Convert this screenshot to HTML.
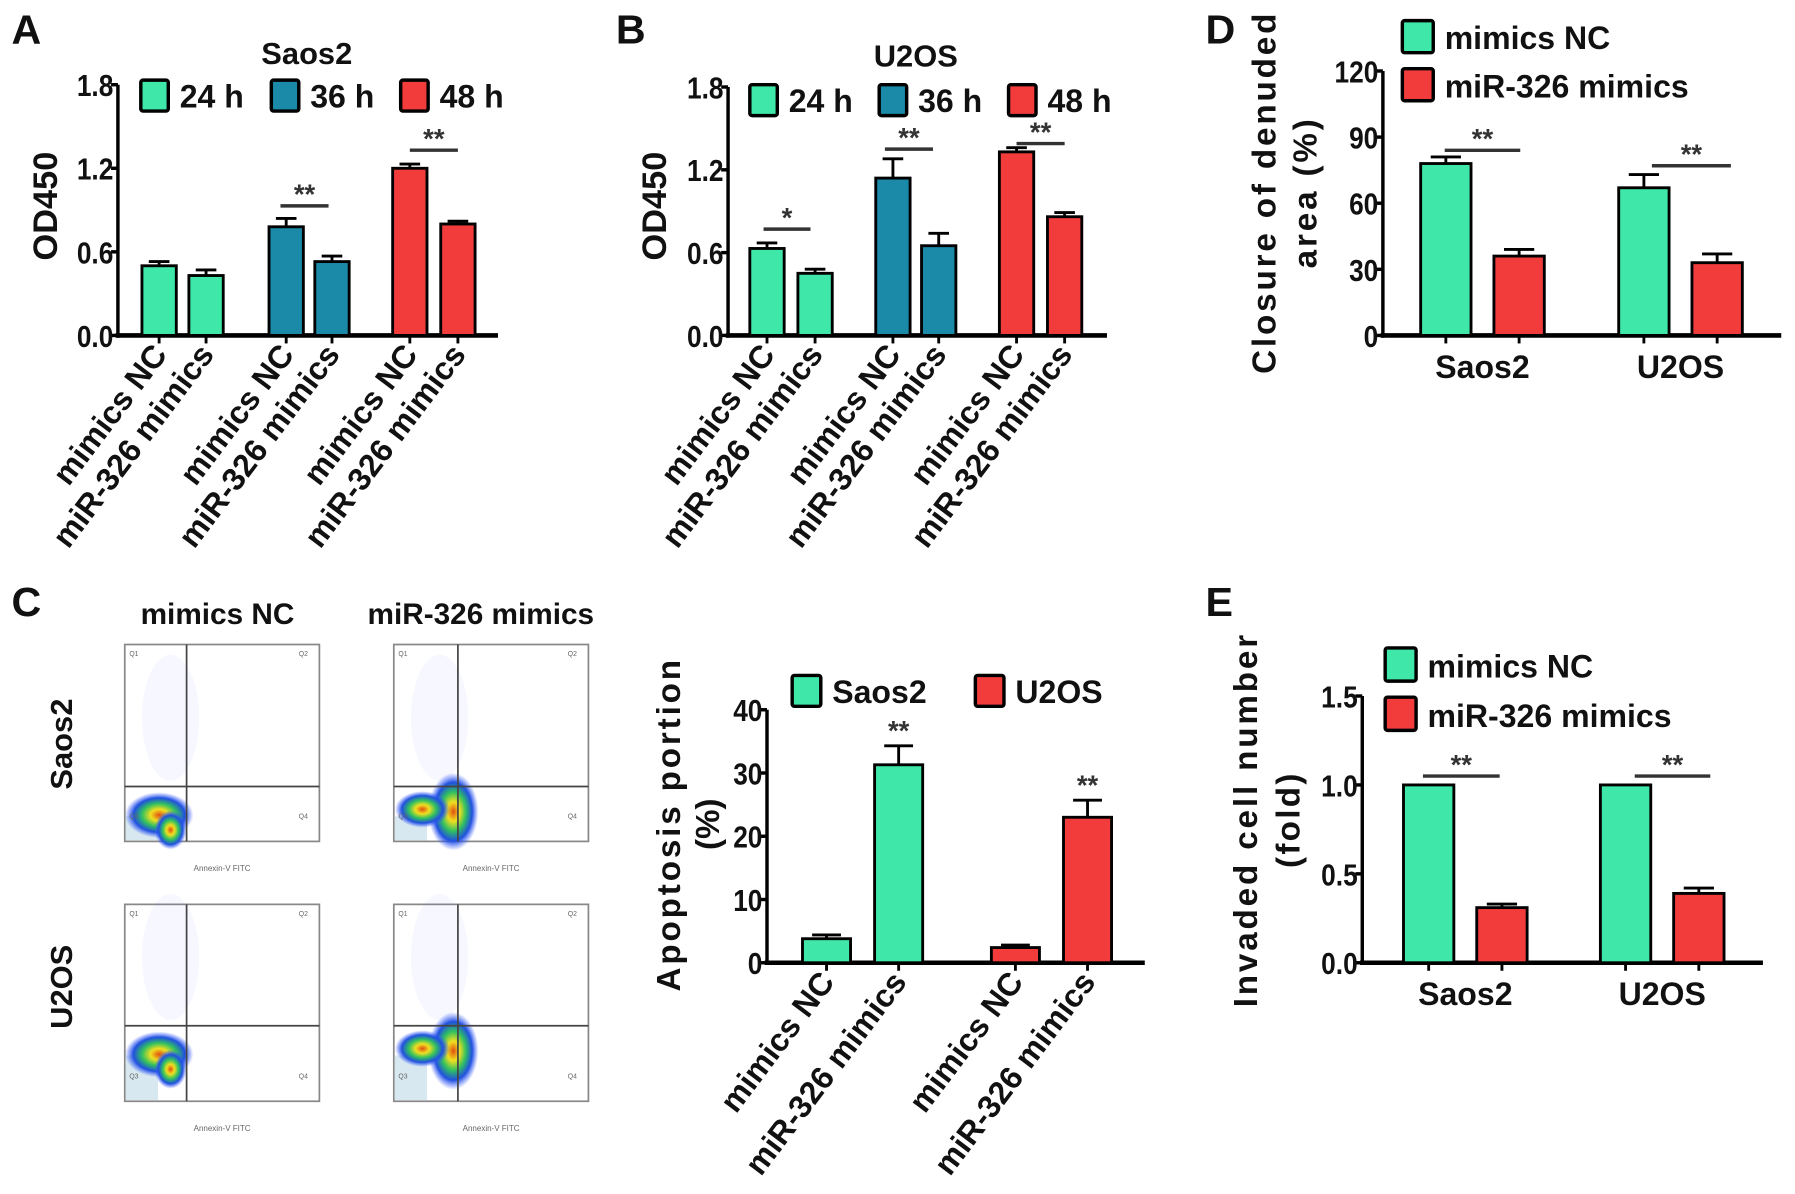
<!DOCTYPE html>
<html><head><meta charset="utf-8"><style>
html,body{margin:0;padding:0;background:#fff;}
svg{display:block;font-family:"Liberation Sans",Arial,sans-serif;font-weight:bold;}
</style></head><body>
<svg id="fig" width="1795" height="1194" viewBox="0 0 1568 1043" xmlns="http://www.w3.org/2000/svg">
<defs>
<radialGradient id="blob" cx="50%" cy="50%" r="50%">
<stop offset="0" stop-color="#e05010"/><stop offset="0.25" stop-color="#f0e020"/><stop offset="0.5" stop-color="#30c060"/><stop offset="0.75" stop-color="#2050e0"/><stop offset="1" stop-color="#4060ff" stop-opacity="0"/>
</radialGradient>
</defs>
<g id="root"></g>
</svg>
<script>
// Panel A (Saos2 CCK-8)
const aCats = ["mimics NC","miR-326 mimics","mimics NC","miR-326 mimics","mimics NC","miR-326 mimics"];
const aVals = [0.50,0.43,0.78,0.53,1.20,0.80];
const aErrs = [0.03,0.04,0.06,0.04,0.03,0.02];
const aTicks = [0.0,0.6,1.2,1.8];
// Panel B (U2OS CCK-8)
const bVals = [0.63,0.45,1.14,0.65,1.33,0.86];
const bErrs = [0.04,0.03,0.14,0.09,0.03,0.03];
// Panel D (wound closure)
const dCats = ["Saos2","U2OS"];
const dNC = [78,67];
const dNCerr = [3,6];
const dMi = [36,33];
const dMiErr = [3,4];
const dTicks = [0,30,60,90,120];
// Panel C (apoptosis)
const cCats = ["mimics NC","miR-326 mimics","mimics NC","miR-326 mimics"];
const cVals = [3.8,31.3,2.4,23.0];
const cErrs = [0.6,3.0,0.4,2.7];
const cTicks = [0,10,20,30,40];
// Panel E (invasion)
const eNC = [1.0,1.0];
const eNCerr = [0,0];
const eMi = [0.31,0.39];
const eMiErr = [0.02,0.03];
const eTicks = [0.0,0.5,1.0,1.5];

const G="#3fe8a9", T="#1a8aa8", R="#f23c3c";
const NS="http://www.w3.org/2000/svg";
const root=document.getElementById('root');
function el(tag,attrs,parent,txt){const e=document.createElementNS(NS,tag);for(const k in attrs)e.setAttribute(k,attrs[k]);if(txt!==undefined)e.textContent=txt;(parent||root).appendChild(e);return e;}
function txt(x,y,s,size,name,extra){const t=el('text',Object.assign({x:x,y:y,'font-size':size,fill:'#111'},extra||{}),root,s);


return t;}

function axis(ax){
  const g=el('g',{});
  
  
  const y=v=>ax.y0-(v-ax.min)/(ax.max-ax.min)*(ax.y0-ax.y1);
  el('line',{x1:ax.x,y1:ax.y1,x2:ax.x,y2:ax.y0+2,stroke:'#000','stroke-width':3},g);
  el('line',{x1:ax.x-2,y1:ax.y0,x2:ax.xEnd,y2:ax.y0,stroke:'#000','stroke-width':4},g);
  ax.ticks.forEach((t,i)=>{const yy=y(t);
    el('line',{x1:ax.x-6,y1:yy,x2:ax.x,y2:yy,stroke:'#000','stroke-width':3},g);
    const l=el('text',{x:ax.x-4,y:yy+10,'font-size':27,'text-anchor':'end',fill:'#111',transform:`translate(${ax.x-4} 0) scale(0.85 1) translate(${-(ax.x-4)} 0)`},g,ax.tickLabels[i]);
    
    
  });
  return y;
}
function bar(cx,w,v,e,y,color,name){
  const top=y(v), base=y(0);
  if(e>0){const et=y(v+e);
    el('line',{x1:cx,y1:top,x2:cx,y2:et,stroke:'#000','stroke-width':2.5});
    el('line',{x1:cx-w*0.3,y1:et,x2:cx+w*0.3,y2:et,stroke:'#000','stroke-width':2.5});}
  const r=el('rect',{x:cx-w/2,y:top,width:w,height:base-top,fill:color,stroke:'#000','stroke-width':2.5});
  
  
  el('line',{x1:cx,y1:base,x2:cx,y2:base+7,stroke:'#000','stroke-width':2.5});
}
function sig(x1,x2,yy,s){el('line',{x1:x1,y1:yy,x2:x2,y2:yy,stroke:'#333','stroke-width':3});
  const t=el('text',{x:(x1+x2)/2,y:yy-2,'font-size':24,'text-anchor':'middle',fill:'#333'},root,s);
  
  }
function legendBox(x,y,w,h,color,label,size){
  const r=el('rect',{x:x,y:y,width:w,height:h,fill:color,stroke:'#000','stroke-width':3,rx:2});
  
  
  txt(x+w+10,y+h-3,label,size,'legend-label');
}
function rotLabel(x,y,s,name){const t=el('text',{x:x,y:y,'font-size':28,'text-anchor':'end',fill:'#111',transform:`rotate(-53 ${x} ${y})`},root,s);
  
  }
const fmt1=v=>v.toFixed(1);

// ---- Panel A ----
txt(10,38,'A',36,'panel-a-letter');
txt(268,56,'Saos2',27,'panel-a-title',{'text-anchor':'middle'});
const yA=axis({name:'panel-a',x:103,y0:293,y1:74,min:0,max:1.8,xEnd:435,ticks:aTicks,tickLabels:aTicks.map(fmt1)});
const aX=[139,180,250,290,358,400];
const aCol=[G,G,T,T,R,R];
aVals.forEach((v,i)=>bar(aX[i],30,v,aErrs[i],yA,aCol[i],'bar-a-'+i));
aCats.forEach((c,i)=>rotLabel(aX[i]+8,310,c,'x-label-a'));
legendBox(123,70,24,27,G,'24 h',28);legendBox(237,70,24,27,T,'36 h',28);legendBox(350,70,24,27,R,'48 h',28);
sig(245,287,yA(0.93),'**');sig(358,400,yA(1.33),'**');
txt(50,180,'OD450',30,'y-axis-title-a',{'text-anchor':'middle',transform:'rotate(-90 50 180)'});

// ---- Panel B ----
txt(538,38,'B',36,'panel-b-letter');
txt(800,58,'U2OS',27,'panel-b-title',{'text-anchor':'middle'});
const yB=axis({name:'panel-b',x:636,y0:293,y1:76,min:0,max:1.8,xEnd:967,ticks:aTicks,tickLabels:aTicks.map(fmt1)});
const bX=[670,712,780,820,888,930];
bVals.forEach((v,i)=>bar(bX[i],30,v,bErrs[i],yB,aCol[i],'bar-b-'+i));
aCats.forEach((c,i)=>rotLabel(bX[i]+8,310,c,'x-label-b'));
legendBox(655,74,24,27,G,'24 h',28);legendBox(768,74,24,27,T,'36 h',28);legendBox(881,74,24,27,R,'48 h',28);
sig(667,708,yB(0.77),'*');sig(773,815,yB(1.35),'**');sig(888,930,yB(1.39),'**');
txt(582,180,'OD450',30,'y-axis-title-b',{'text-anchor':'middle',transform:'rotate(-90 582 180)'});

// ---- Panel D ----
txt(1053,38,'D',36,'panel-d-letter');
const yD=axis({name:'panel-d',x:1208,y0:293,y1:62,min:0,max:120,xEnd:1556,ticks:dTicks,tickLabels:dTicks.map(String)});
const dX=[1295,1468];
dCats.forEach((c,i)=>{bar(dX[i]-32,44,dNC[i],dNCerr[i],yD,G,'bar-d-nc-'+c);bar(dX[i]+32,44,dMi[i],dMiErr[i],yD,R,'bar-d-mimics-'+c);
  txt(dX[i],330,c,28,'x-label-d',{'text-anchor':'middle'});});
legendBox(1225,18,27,28,G,'mimics NC',28);legendBox(1225,60,27,28,R,'miR-326 mimics',28);
sig(1262,1328,yD(84),'**');sig(1443,1512,yD(77),'**');
txt(1114,168,'Closure of denuded',29,'y-axis-title-d',{'text-anchor':'middle','letter-spacing':2.5,transform:'rotate(-90 1114 168)'});
txt(1150,168,'area (%)',29,'y-axis-title-d-2',{'text-anchor':'middle','letter-spacing':2.5,transform:'rotate(-90 1150 168)'});

// ---- Panel C flow plots ----
txt(10,538,'C',36,'panel-c-letter');
txt(190,545,'mimics NC',26,'flow-col-title',{'text-anchor':'middle'});
txt(420,545,'miR-326 mimics',26,'flow-col-title',{'text-anchor':'middle'});
txt(63,650,'Saos2',27,'flow-row-label',{'text-anchor':'middle',transform:'rotate(-90 63 650)'});
txt(63,862,'U2OS',27,'flow-row-label',{'text-anchor':'middle',transform:'rotate(-90 63 862)'});
const plots=[[109,563,163,687,'flow-saos2-nc',0],[344,563,400,687,'flow-saos2-mimics',1],[109,790,163,896,'flow-u2os-nc',0],[344,790,400,896,'flow-u2os-mimics',1]];
plots.forEach(p=>{const [x,y,vx,hy,nm,m]=p;const w=170,h=172;
  const g=el('g',{});
  el('rect',{x:x,y:y,width:w,height:h,fill:'#fff',stroke:'#888','stroke-width':1.5},g);
  el('rect',{x:x+1,y:hy+26,width:28,height:h-(hy-y)-27,fill:'#d8e8f0'},g);
  if(m){el('ellipse',{cx:vx-4,cy:hy+22,rx:22,ry:34,fill:'url(#blob)'},g);el('ellipse',{cx:x+25,cy:hy+20,rx:24,ry:16,fill:'url(#blob)'},g);}
  else{el('ellipse',{cx:x+30,cy:hy+25,rx:30,ry:20,fill:'url(#blob)'},g);el('ellipse',{cx:x+40,cy:hy+38,rx:14,ry:17,fill:'url(#blob)'},g);}
  el('ellipse',{cx:x+40,cy:hy-60,rx:25,ry:55,fill:'#6070ff','fill-opacity':0.06},g);
  el('line',{x1:vx,y1:y,x2:vx,y2:y+h,stroke:'#444','stroke-width':1.5},g);
  el('line',{x1:x,y1:hy,x2:x+w,y2:hy,stroke:'#444','stroke-width':1.5},g);
  el('text',{x:x+85,y:y+h+26,'font-size':7,'font-weight':'normal','text-anchor':'middle',fill:'#666'},g,'Annexin-V FITC');
  ['Q1','Q2','Q3','Q4'].forEach((q,i)=>el('text',{x:i%2?x+w-18:x+4,y:i<2?y+10:y+h-20,'font-size':6,'font-weight':'normal',fill:'#666'},g,q));
});

// ---- Panel C bar ----
const yC=axis({name:'panel-c',x:670,y0:841,y1:620,min:0,max:40,xEnd:1000,ticks:cTicks,tickLabels:cTicks.map(String)});
const cX=[722,785,887,950];const cCol=[G,G,R,R];
cVals.forEach((v,i)=>bar(cX[i],42,v,cErrs[i],yC,cCol[i],'bar-c-'+i));
cCats.forEach((c,i)=>rotLabel(cX[i]+8,858,c,'x-label-c'));
[1,3].forEach(i=>{const t=el('text',{x:cX[i],y:yC(cVals[i]+cErrs[i])-5,'font-size':24,'text-anchor':'middle',fill:'#333'},root,'**');

});
legendBox(692,590,25,27,G,'Saos2',28);legendBox(852,590,25,27,R,'U2OS',28);
txt(594,720,'Apoptosis portion',29,'y-axis-title-c',{'text-anchor':'middle','letter-spacing':2.5,transform:'rotate(-90 594 720)'});
txt(628,720,'(%)',29,'y-axis-title-c-2',{'text-anchor':'middle',transform:'rotate(-90 628 720)'});

// ---- Panel E ----
txt(1053,538,'E',36,'panel-e-letter');
const yE=axis({name:'panel-e',x:1190,y0:841,y1:608,min:0,max:1.5,xEnd:1540,ticks:eTicks,tickLabels:eTicks.map(fmt1)});
const eX=[1280,1452];
dCats.forEach((c,i)=>{bar(eX[i]-32,44,eNC[i],eNCerr[i],yE,G,'bar-e-nc-'+c);bar(eX[i]+32,44,eMi[i],eMiErr[i],yE,R,'bar-e-mimics-'+c);
  txt(eX[i],878,c,28,'x-label-e',{'text-anchor':'middle'});});
legendBox(1210,566,27,29,G,'mimics NC',28);legendBox(1210,609,27,29,R,'miR-326 mimics',28);
sig(1243,1310,yE(1.05),'**');sig(1428,1494,yE(1.05),'**');
txt(1098,716,'Invaded cell number',29,'y-axis-title-e',{'text-anchor':'middle','letter-spacing':2.5,transform:'rotate(-90 1098 716)'});
txt(1135,716,'(fold)',29,'y-axis-title-e-2',{'text-anchor':'middle','letter-spacing':2,transform:'rotate(-90 1135 716)'});
</script>
</body></html>
